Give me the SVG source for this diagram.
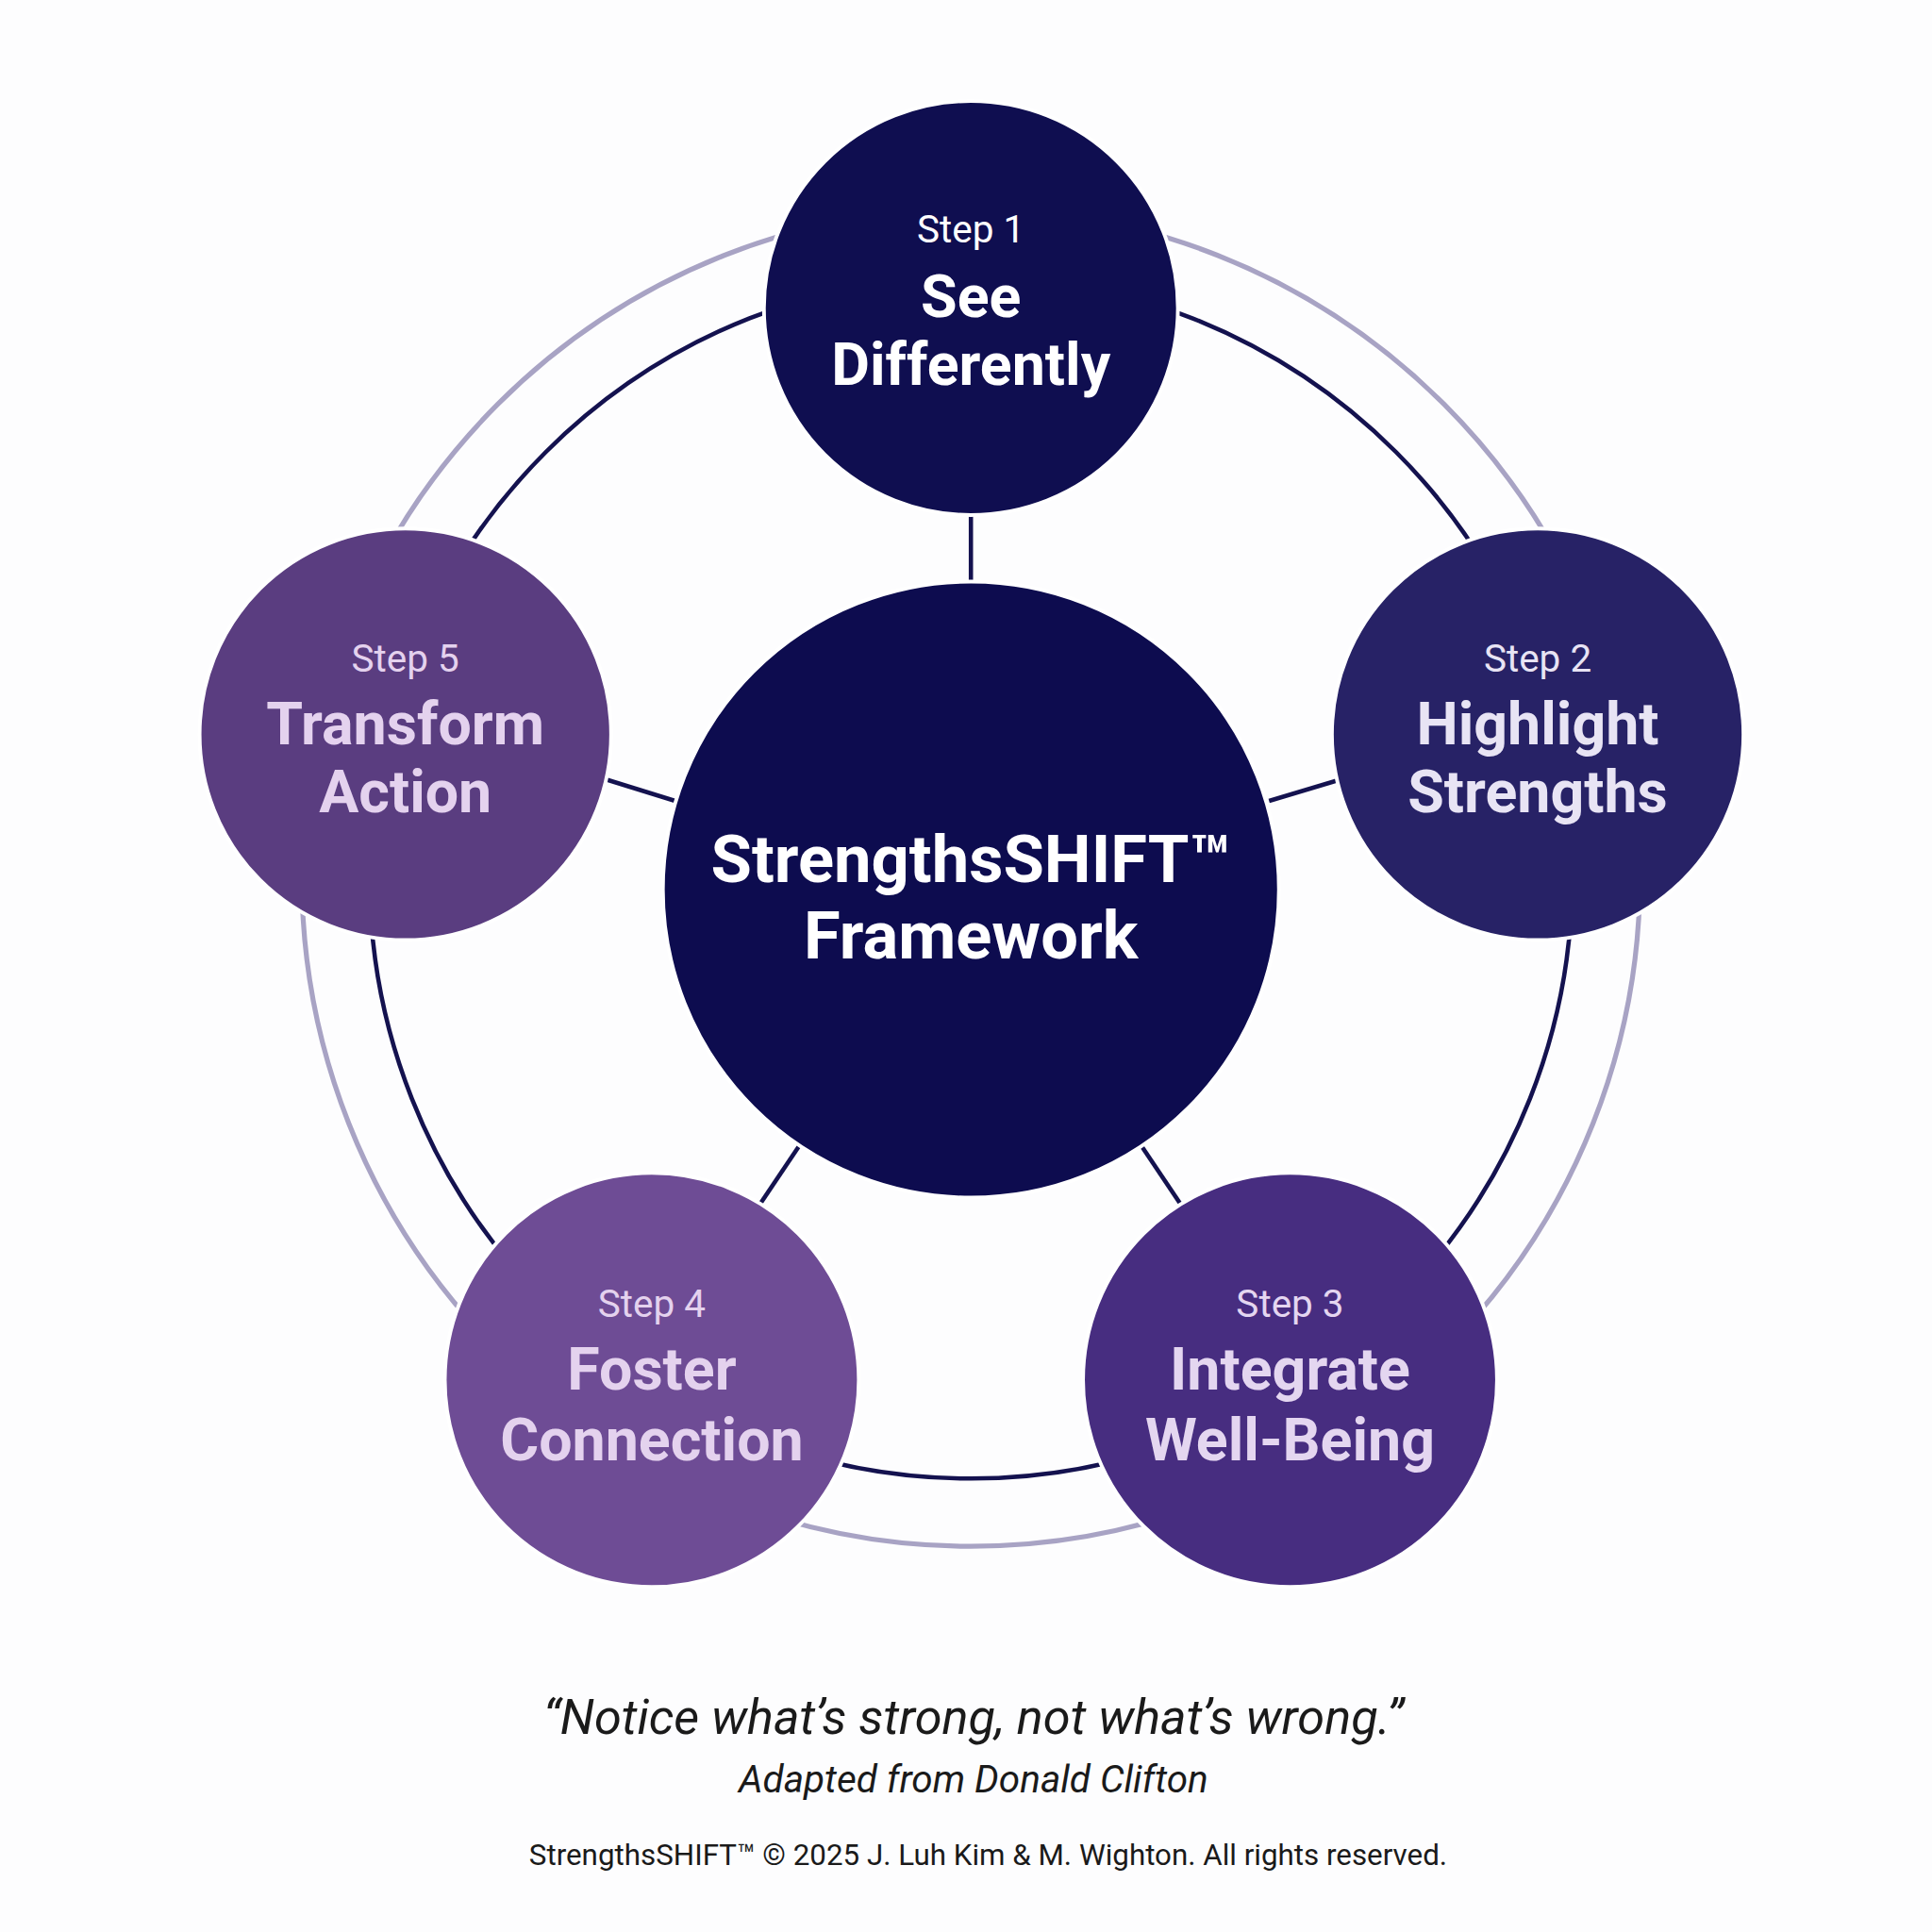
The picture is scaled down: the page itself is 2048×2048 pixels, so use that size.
<svg xmlns="http://www.w3.org/2000/svg" width="2048" height="2048" viewBox="0 0 2048 2048">
<style>
.step{font-family:Roboto,"Liberation Sans",sans-serif;font-size:31px;text-anchor:middle}
.title{font-family:Roboto,"Liberation Sans",sans-serif;font-size:48px;font-weight:bold;text-anchor:middle}
.spoke{stroke:#14124f;stroke-width:3.5;fill:none}
</style>
<rect width="2048" height="2048" fill="#fdfdfe"/>
<g transform="scale(1.3061)">
<g id="connectors">
<circle cx="788" cy="712" r="543" fill="none" stroke="#a8a3c4" stroke-width="4"/>
<circle cx="788" cy="712" r="488" class="spoke"/>
<line x1="788" y1="418" x2="788" y2="476" class="spoke"/>
<line x1="1030" y1="650" x2="1090" y2="632" class="spoke"/>
<line x1="925" y1="928" x2="960" y2="980" class="spoke"/>
<line x1="650" y1="928" x2="615" y2="980" class="spoke"/>
<line x1="548" y1="650" x2="490" y2="632" class="spoke"/>
</g>
<g id="center"><circle cx="788" cy="722" r="250" fill="#0d0c4f" stroke="#fff" stroke-width="3"/>
<text x="788" y="716" class="title" fill="#fff" style="font-size:54px">StrengthsSHIFT™</text>
<text x="788" y="778" class="title" fill="#fff" style="font-size:54px">Framework</text></g>
<g id="step1"><circle cx="788" cy="250" r="168" fill="#0f0e50" stroke="#fff" stroke-width="3"/>
<text x="788" y="197" class="step" fill="#fff">Step 1</text>
<text x="788" y="257" class="title" fill="#fff">See</text>
<text x="788" y="312" class="title" fill="#fff">Differently</text></g>
<g id="step2"><circle cx="1248" cy="596" r="167" fill="#272266" stroke="#fff" stroke-width="3"/>
<text x="1248" y="545" class="step" fill="#e8e4f4">Step 2</text>
<text x="1248" y="604" class="title" fill="#e8e4f4">Highlight</text>
<text x="1248" y="659" class="title" fill="#e8e4f4">Strengths</text></g>
<g id="step3"><circle cx="1047" cy="1120" r="168" fill="#472d80" stroke="#fff" stroke-width="3"/>
<text x="1047" y="1069" class="step" fill="#e4d6f0">Step 3</text>
<text x="1047" y="1128" class="title" fill="#e4d6f0">Integrate</text>
<text x="1047" y="1185" class="title" fill="#e4d6f0">Well-Being</text></g>
<g id="step4"><circle cx="529" cy="1120" r="168" fill="#6e4c95" stroke="#fff" stroke-width="3"/>
<text x="529" y="1069" class="step" fill="#e4d2ee">Step 4</text>
<text x="529" y="1128" class="title" fill="#e4d2ee">Foster</text>
<text x="529" y="1185" class="title" fill="#e4d2ee">Connection</text></g>
<g id="step5"><circle cx="329" cy="596" r="167" fill="#5a3d80" stroke="#fff" stroke-width="3"/>
<text x="329" y="545" class="step" fill="#e4d2ee">Step 5</text>
<text x="329" y="604" class="title" fill="#e4d2ee">Transform</text>
<text x="329" y="659" class="title" fill="#e4d2ee">Action</text></g>
<g id="caption" font-family="Roboto,'Liberation Sans',sans-serif" text-anchor="middle" fill="#1a1a1a">
<text x="790" y="1407" font-size="40" font-style="italic">“Notice what’s strong, not what’s wrong.”</text>
<text x="790" y="1455" font-size="31" font-style="italic">Adapted from Donald Clifton</text>
<text x="802" y="1514" font-size="24">StrengthsSHIFT™ © 2025 J. Luh Kim &amp; M. Wighton. All rights reserved.</text>
</g>
</g>
</svg>
